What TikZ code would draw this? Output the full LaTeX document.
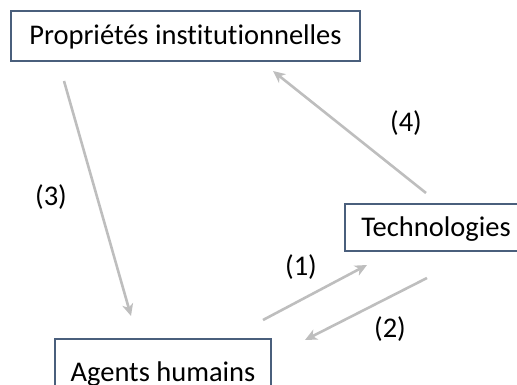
\documentclass[tikz,border=0pt]{standalone}
\usepackage{fontspec}
\setmainfont[Ligatures=NoCommon]{Carlito}
\usetikzlibrary{arrows.meta}
\definecolor{boxline}{HTML}{4A5F7C}
\definecolor{arrowgray}{HTML}{BEBEBE}
\tikzset{
  box/.style={draw=boxline, line width=1.1pt, rectangle, inner sep=0pt,
    text height=19pt, text depth=1pt, font=\fontsize{28.5}{34}\selectfont},
  lbl/.style={font=\fontsize{28.5}{34}\selectfont, inner sep=0pt},
  conn/.style={draw=arrowgray, line width=2.6pt,
    -{Stealth[length=12pt,width=11pt,inset=3.5pt]}}
}
\begin{document}
\begin{tikzpicture}[x=1pt,y=-1pt]
\useasboundingbox (0,0) rectangle (517,385);
\begin{scope}
\clip (0,0) rectangle (517,385);
\node[box, minimum width=349pt, minimum height=50pt] (prop) at (185.5,36) {Propriétés institutionnelles};
\node[box, minimum width=182pt, minimum height=47pt] (tech) at (436,227.5) {Technologies};
\node[box, minimum width=216pt, minimum height=66pt] (agents) at (163,372) {Agents humains};
\end{scope}
\coordinate (a3s) at (64,81);
\coordinate (a3e) at (131,316);
\coordinate (a4s) at (426,193);
\coordinate (a4e) at (273,71);
\coordinate (a1s) at (263,320);
\coordinate (a1e) at (367,265);
\coordinate (a2s) at (427,278);
\coordinate (a2e) at (305,340);
\draw[conn] (a3s) -- (a3e);
\draw[conn] (a4s) -- (a4e);
\draw[conn] (a1s) -- (a1e);
\draw[conn] (a2s) -- (a2e);
\node[lbl] (l3) at (51,197) {(3)};
\node[lbl] (l4) at (406,123) {(4)};
\node[lbl] (l1) at (301,267) {(1)};
\node[lbl] (l2) at (390,329) {(2)};
\end{tikzpicture}
\end{document}
